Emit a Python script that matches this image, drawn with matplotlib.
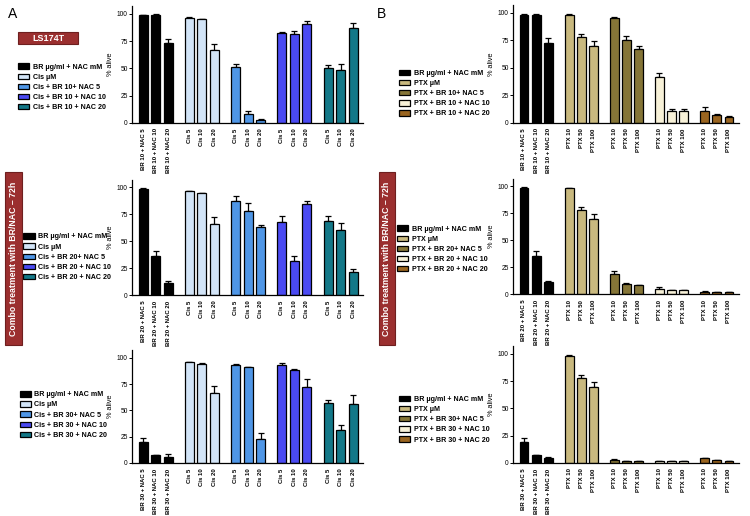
import matplotlib
matplotlib.use("Agg")
import matplotlib.pyplot as plt
import numpy as np
from matplotlib.patches import Patch, Rectangle

plt.rcParams['font.family'] = ['Liberation Sans', 'DejaVu Sans']
plt.rcParams['axes.linewidth'] = 0.9

# ---- data (% alive), 5 groups x 3 bars per panel ----
# panel A: cisplatin
a1_vals = [[98.5, 99, 73], [96.5, 95, 66.5], [51, 8, 3], [82, 81.5, 91], [50, 48.8, 87.2]]
a1_errs = [[0.5, 0.5, 4], [0.5, 0.5, 6], [2.8, 2.5, 0.6], [1, 3, 2], [3.4, 5.2, 4.3]]
a2_vals = [[98.5, 36, 11.4], [96.3, 94.5, 66], [86.8, 78, 62.8], [67.7, 31.7, 84.6], [69, 60, 21]]
a2_errs = [[0.5, 4.6, 1.6], [0.5, 0.5, 6], [5.2, 7.5, 1.8], [5.3, 4.3, 2.4], [4, 6.8, 3.3]]
a3_vals = [[20, 7.3, 5.8], [95.8, 94.2, 66.5], [93.3, 91, 22.7], [93.3, 88.2, 72.2], [56.9, 31, 55.9]]
a3_errs = [[3.3, 0.5, 2.2], [0.5, 0.5, 6.3], [0.8, 0.6, 5.3], [1.7, 0.8, 7.8], [2.5, 5.4, 8.3]]

# panel B: paclitaxel
b1_vals = [[98.2, 98.5, 72.9], [98.2, 77.7, 69.5], [95.4, 75, 67], [42, 11, 11], [10.7, 7.3, 5.5]]
b1_errs = [[0.5, 0.5, 3.9], [0.5, 3.3, 4.9], [0.4, 4, 2.5], [3.7, 1.8, 1.8], [3.3, 0.7, 0.4]]
b2_vals = [[98.5, 35.4, 10.8], [97.8, 77.8, 69.5], [19, 9.5, 8], [4.9, 3.4, 3.4], [2.2, 1.9, 1.9]]
b2_errs = [[0.5, 4.6, 1.8], [0.5, 3.2, 4.5], [2.8, 0.7, 0.4], [1.3, 0.4, 0.4], [0.3, 0.3, 0.3]]
b3_vals = [[19.4, 6.8, 4.9], [98.2, 77.5, 69.2], [2.8, 1.8, 1.8], [1.8, 1.5, 1.5], [4, 2.5, 1.5]]
b3_errs = [[3.4, 0.4, 0.4], [0.5, 3.4, 4.8], [0.4, 0.3, 0.3], [0.3, 0.3, 0.3], [0.6, 0.3, 0.3]]

br_doses = [10, 20, 30]
nac_doses = [5, 10, 20]
cis_doses = [5, 10, 20]
ptx_doses = [10, 50, 100]

a_colors = ['#000000', '#d2e4f7', '#4f96e6', '#4a4af2', '#137888']
b_colors = ['#000000', '#c9b97f', '#857537', '#f7f1d8', '#9a6520']

RED = '#9b2f2f'
RED_EDGE = '#6e1f1f'

# axes rectangles in figure fractions [left, bottom, width, height]
a_rects = [[0.176, 0.762, 0.308, 0.226], [0.176, 0.428, 0.308, 0.224], [0.176, 0.103, 0.308, 0.218]]
b_rects = [[0.684, 0.762, 0.301, 0.228], [0.684, 0.430, 0.301, 0.224], [0.684, 0.103, 0.301, 0.226]]
a_leg = [(0.024, 0.877), (0.031, 0.548), (0.026, 0.242)]
b_leg = [(0.532, 0.865), (0.529, 0.563), (0.532, 0.233)]


def draw_panel(fig, rect, vals, errs, colors, br, drug, doses, leg_xy):
    ax = fig.add_axes(rect)
    xs, labels = [], []
    for g in range(5):
        pos = g * 3.7 + np.arange(3)
        v = np.array(vals[g])
        e = np.array(errs[g])
        ax.errorbar(pos, v, yerr=[np.zeros(3), e], fmt='none', ecolor='black',
                    elinewidth=0.9, capsize=2.0, capthick=0.9, zorder=1)
        ax.bar(pos, v, width=0.72, color=colors[g], edgecolor='black',
               linewidth=0.9, zorder=2)
        xs.extend(pos)
        if g == 0:
            labels.extend([f'BR {br} + NAC {n}' for n in nac_doses])
        else:
            labels.extend([f'{drug} {d}' for d in doses])
    ax.set_xlim(-0.9, 17.6)
    ax.set_ylim(0, 107)
    ax.set_yticks([0, 25, 50, 75, 100])
    ax.tick_params(axis='y', labelsize=4.8, length=2, width=0.7, pad=1)
    ax.set_xticks(xs)
    ax.set_xticklabels(labels, rotation=90, fontsize=4.3, fontweight='bold')
    ax.tick_params(axis='x', length=0, pad=4)
    for s in ['top', 'right']:
        ax.spines[s].set_visible(False)
    ax.set_ylabel('% alive', fontsize=5.3, labelpad=2)

    names = ['BR \u00b5g/ml + NAC mM', f'{drug} \u00b5M',
             f'{drug} + BR {br}+ NAC 5', f'{drug} + BR {br} + NAC 10',
             f'{drug} + BR {br} + NAC 20']
    handles = [Patch(facecolor=c, edgecolor='black', linewidth=0.9) for c in colors]
    ax.legend(handles, names, loc='upper left', bbox_to_anchor=leg_xy,
              bbox_transform=fig.transFigure, frameon=False,
              prop={'size': 5.1, 'weight': 'bold'}, handlelength=1.6,
              handleheight=0.8, labelspacing=0.42, handletextpad=0.5,
              borderpad=0, borderaxespad=0)
    return ax


fig = plt.figure(figsize=(7.5, 5.16), dpi=100)

for i in range(3):
    draw_panel(fig, a_rects[i], [a1_vals, a2_vals, a3_vals][i], [a1_errs, a2_errs, a3_errs][i],
               a_colors, br_doses[i], 'Cis', cis_doses, a_leg[i])
    draw_panel(fig, b_rects[i], [b1_vals, b2_vals, b3_vals][i], [b1_errs, b2_errs, b3_errs][i],
               b_colors, br_doses[i], 'PTX', ptx_doses, b_leg[i])

# panel letters
fig.text(0.010, 0.972, 'A', fontsize=10, va='center', ha='left')
fig.text(0.503, 0.972, 'B', fontsize=10, va='center', ha='left')

# LS174T label box
fig.add_artist(Rectangle((0.024, 0.9147), 0.080, 0.0233, transform=fig.transFigure,
                         facecolor=RED, edgecolor=RED_EDGE, linewidth=0.8))
fig.text(0.064, 0.926, 'LS174T', fontsize=6.5, fontweight='bold', color='white',
         ha='center', va='center')

# vertical red label boxes
for x0, w in [(0.0067, 0.0227), (0.5053, 0.021)]:
    fig.add_artist(Rectangle((x0, 0.3314), w, 0.335, transform=fig.transFigure,
                             facecolor=RED, edgecolor=RED_EDGE, linewidth=0.8))
    fig.text(x0 + w / 2, 0.499, 'Combo treatment with BR/NAC \u2013 72h', fontsize=6.3,
             fontweight='bold', color='white', rotation=90, ha='center', va='center')

fig.savefig('out.png', dpi=100, facecolor='white')
